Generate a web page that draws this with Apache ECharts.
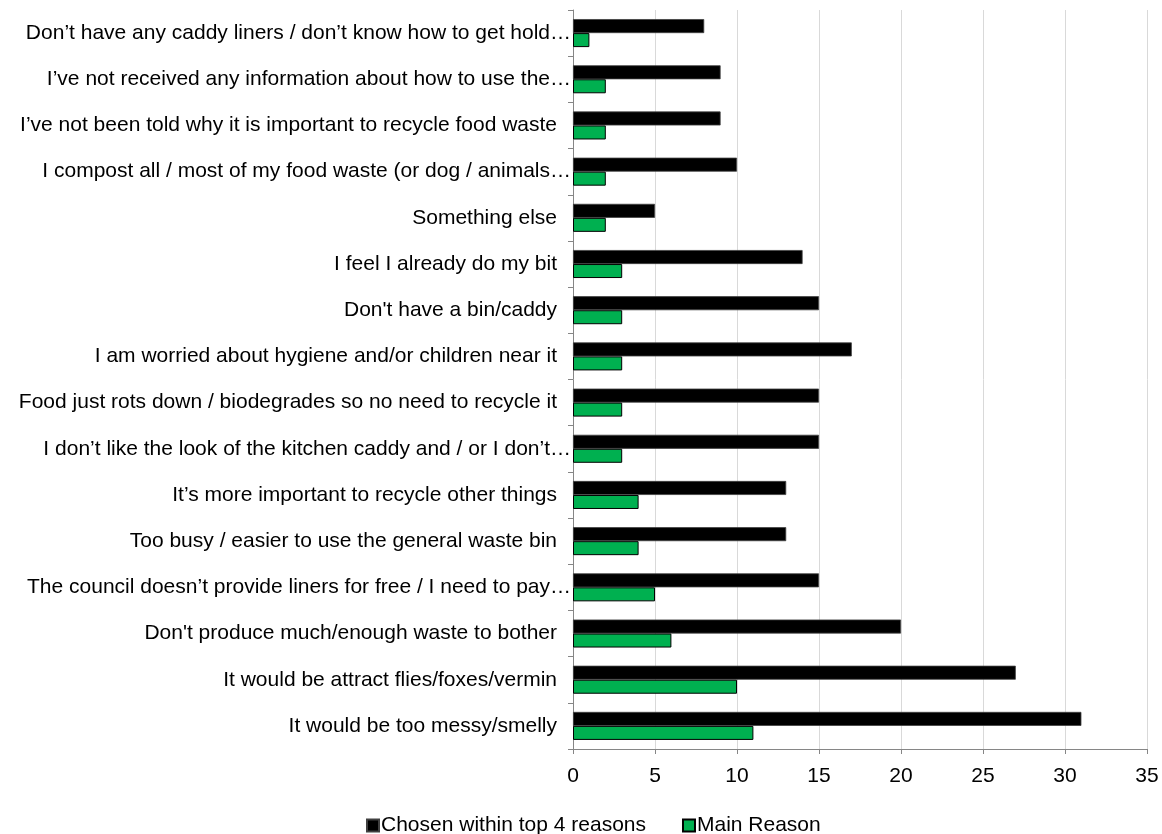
<!DOCTYPE html>
<html>
<head>
<meta charset="utf-8">
<script src="https://cdn.jsdelivr.net/npm/echarts@6/dist/echarts.min.js"></script>
<style>html,body{margin:0;padding:0;background:#fff}#c{width:1162px;height:834px}</style>
</head>
<body>
<div id="c"></div>
<script>
// Categories listed bottom-to-top
const categories = [
  "It would be too messy/smelly",
  "It would be attract flies/foxes/vermin",
  "Don't produce much/enough waste to bother",
  "The council doesn’t provide liners for free / I need to pay…",
  "Too busy / easier to use the general waste bin",
  "It’s more important to recycle other things",
  "I don’t like the look of the kitchen caddy and / or I don’t…",
  "Food just rots down / biodegrades so no need to recycle it",
  "I am worried about hygiene and/or children near it",
  "Don't have a bin/caddy",
  "I feel I already do my bit",
  "Something else",
  "I compost all / most of my food waste (or dog / animals…",
  "I’ve not been told why it is important to recycle food waste",
  "I’ve not received any information about how to use the…",
  "Don’t have any caddy liners / don’t know how to get hold…"
];
const top4 = [31, 27, 20, 15, 13, 13, 15, 15, 17, 15, 14, 5, 10, 9, 9, 8];
const mainReason = [11, 10, 6, 5, 4, 4, 3, 3, 3, 3, 3, 2, 2, 2, 2, 1];
const xTicks = [0, 5, 10, 15, 20, 25, 30, 35];

const chart = echarts.init(document.getElementById('c'), null, {renderer: 'canvas'});
const font = "'Liberation Sans', Arial, sans-serif";
const yData = categories.map(c => c.endsWith('…')
  ? {value: c, textStyle: {padding: [0, -14, 0, 0]}}
  : c);
chart.setOption({
  animation: false,
  textStyle: {fontFamily: font},
  grid: {left: 573, right: 15, top: 10, bottom: 85},
  legend: {
    top: 810,
    left: 361,
    itemWidth: 12, itemHeight: 12, itemGap: 36,
    icon: 'rect',
    textStyle: {fontSize: 21, color: '#000', fontFamily: font, padding: [0,0,0,-3]},
    data: ['Chosen within top 4 reasons', 'Main Reason']
  },
  xAxis: {
    type: 'value', min: xTicks[0], max: xTicks[xTicks.length-1], interval: 5,
    axisLine: {show: true, lineStyle: {color: '#868686', width: 1}},
    axisTick: {show: true, length: 5, lineStyle: {color: '#868686'}},
    axisLabel: {fontSize: 21, color: '#000', margin: 17, fontFamily: font},
    splitLine: {show: true, lineStyle: {color: '#d9d9d9', width: 1}}
  },
  yAxis: {
    type: 'category', data: yData,
    axisLine: {show: true, lineStyle: {color: '#868686', width: 1}},
    axisTick: {show: true, length: 5, lineStyle: {color: '#868686'}},
    axisLabel: {fontSize: 21, color: '#000', margin: 16, fontFamily: font},
    splitLine: {show: false}
  },
  series: [
    {
      name: 'Chosen within top 4 reasons', type: 'bar', data: top4,
      barWidth: 14, barGap: '0%', barCategoryGap: '39%',
      itemStyle: {color: '#000000', borderColor: '#404040', borderWidth: 0.8}
    },
    {
      name: 'Main Reason', type: 'bar', data: mainReason,
      barWidth: 14,
      itemStyle: {color: '#00b050', borderColor: '#000000', borderWidth: 1}
    }
  ]
});
</script>
</body>
</html>
